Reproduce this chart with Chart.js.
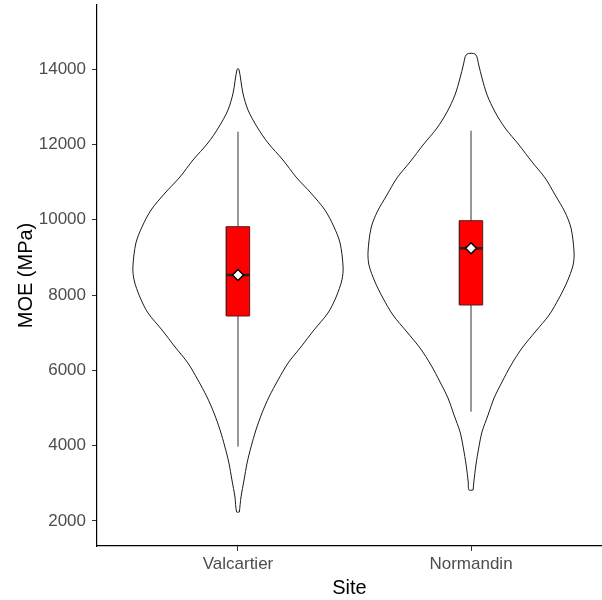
<!DOCTYPE html>
<html>
<head>
<meta charset="utf-8">
<script src="https://cdn.jsdelivr.net/npm/chart.js@4/dist/chart.umd.min.js"></script>
<style>
  body { margin: 0; background: #fff; }
  #wrap { width: 602px; height: 600px; }
</style>
</head>
<body>
<div id="wrap"><canvas id="chart" width="602" height="600"></canvas></div>
<script>
// sites on the x axis
var sites = ['Valcartier', 'Normandin'];
var yTicks = [2000, 4000, 6000, 8000, 10000, 12000, 14000];

// violin outlines: MOE levels and half width (in site units) at each level
var valcartierLevels = [2239, 2637, 3089, 3540, 3965, 4416, 4867, 5292, 5744, 6195, 6620, 7071, 7522, 7947,
  8399, 8744, 9381, 9806, 10257, 10708, 11133, 11585, 12036, 12461, 12912, 13363, 13993];
var valcartierHalf = [0.006, 0.013, 0.026, 0.039, 0.056, 0.077, 0.103, 0.133, 0.172, 0.215, 0.270, 0.326, 0.386, 0.421,
  0.446, 0.451, 0.438, 0.412, 0.373, 0.313, 0.249, 0.193, 0.129, 0.082, 0.043, 0.021, 0.004];
var normandinLevels = [2823, 3035, 3487, 3938, 4363, 4814, 5266, 5690, 6142, 6593, 7018, 7469, 7920, 8345,
  8797, 9142, 9779, 10203, 10655, 11106, 11531, 11983, 12434, 12859, 13310, 13762, 14107, 14391];
var normandinHalf = [0.009, 0.012, 0.021, 0.033, 0.047, 0.073, 0.099, 0.133, 0.172, 0.219, 0.275, 0.335, 0.378, 0.412,
  0.438, 0.442, 0.429, 0.403, 0.361, 0.318, 0.262, 0.206, 0.146, 0.103, 0.069, 0.047, 0.033, 0.019];

// box plot stats per site
var whiskerLow = [3973, 4902];
var q1 = [7443, 7735];
var medians = [8531, 9240];
var q3 = [9814, 9973];
var whiskerHigh = [12336, 12363];
var means = [8531, 9240];

var boxHalf = 0.05;
var levels = [valcartierLevels, normandinLevels];
var halves = [valcartierHalf, normandinHalf];

function violinPoints(c, lv, hw) {
  var pts = [];
  for (var i = 0; i < lv.length; i++) pts.push({x: c + hw[i], y: lv[i]});
  for (var j = lv.length - 1; j >= 0; j--) pts.push({x: c - hw[j], y: lv[j]});
  pts.push({x: c + hw[0], y: lv[0]});
  return pts;
}

var datasets = [];
sites.forEach(function(s, i) {
  var c = i + 1;
  datasets.push({
    label: s + ' violin', data: violinPoints(c, levels[i], halves[i]),
    showLine: true, borderColor: '#1a1a1a', borderWidth: 1, tension: 0.3,
    pointRadius: 0, fill: false, order: 5
  });
  datasets.push({
    label: s + ' whisker', data: [{x: c, y: whiskerLow[i]}, {x: c, y: whiskerHigh[i]}],
    showLine: true, borderColor: '#333', borderWidth: 1, pointRadius: 0, order: 4
  });
  datasets.push({
    label: s + ' box',
    data: [{x: c - boxHalf, y: q1[i]}, {x: c + boxHalf, y: q1[i]}, {x: c + boxHalf, y: q3[i]},
           {x: c - boxHalf, y: q3[i]}, {x: c - boxHalf, y: q1[i]}],
    showLine: true, borderColor: '#5a1a1a', borderWidth: 1, backgroundColor: '#ff0000',
    fill: 'shape', pointRadius: 0, order: 3
  });
  datasets.push({
    label: s + ' median', data: [{x: c - boxHalf, y: medians[i]}, {x: c + boxHalf, y: medians[i]}],
    showLine: true, borderColor: '#222', borderWidth: 2.5, pointRadius: 0, order: 2
  });
});
datasets.push({
  label: 'mean', data: means.map(function(m, i) { return {x: i + 1, y: m}; }),
  showLine: false, pointStyle: 'rectRot', pointRadius: 5.5, pointBackgroundColor: '#fff',
  pointBorderColor: '#000', pointBorderWidth: 1.5, order: 1
});

var tickFont = {family: "'Liberation Sans', Arial, sans-serif", size: 17};
var titleFont = {family: "'Liberation Sans', Arial, sans-serif", size: 20};

new Chart(document.getElementById('chart'), {
  type: 'scatter',
  data: {datasets: datasets},
  options: {
    responsive: false,
    animation: false,
    layout: {autoPadding: false, padding: {top: 5, right: 0, left: 0, bottom: 0}},
    plugins: {legend: {display: false}, tooltip: {enabled: false}},
    scales: {
      x: {
        type: 'linear', min: 0.395, max: 2.562,
        afterBuildTicks: function(scale) { scale.ticks = sites.map(function(s, i) { return {value: i + 1}; }); },
        afterFit: function(scale) {
          scale.height = 54;
          scale.paddingLeft = 0; scale.paddingRight = 0;
        },
        ticks: {
          color: '#4d4d4d', font: tickFont, padding: 3, maxRotation: 0,
          callback: function(v) { return sites[v - 1]; }
        },
        grid: {drawOnChartArea: false, drawTicks: true, tickLength: 5, color: '#333'},
        border: {display: true, color: '#000', width: 1.2},
        title: {display: true, text: 'Site', color: '#000', font: titleFont, padding: {top: 0, bottom: 0}}
      },
      y: {
        min: 1336, max: 15700,
        afterBuildTicks: function(scale) { scale.ticks = yTicks.map(function(v) { return {value: v}; }); },
        afterFit: function(scale) {
          scale.width = 97;
          scale.paddingTop = 0; scale.paddingBottom = 0;
        },
        ticks: {color: '#4d4d4d', font: tickFont, padding: 6, callback: function(v) { return String(v); }},
        grid: {drawOnChartArea: false, drawTicks: true, tickLength: 5, color: '#333'},
        border: {display: true, color: '#000', width: 1.2},
        title: {display: true, text: 'MOE (MPa)', color: '#000', font: titleFont, padding: {top: 14, bottom: 0}}
      }
    }
  }
});
</script>
</body>
</html>
